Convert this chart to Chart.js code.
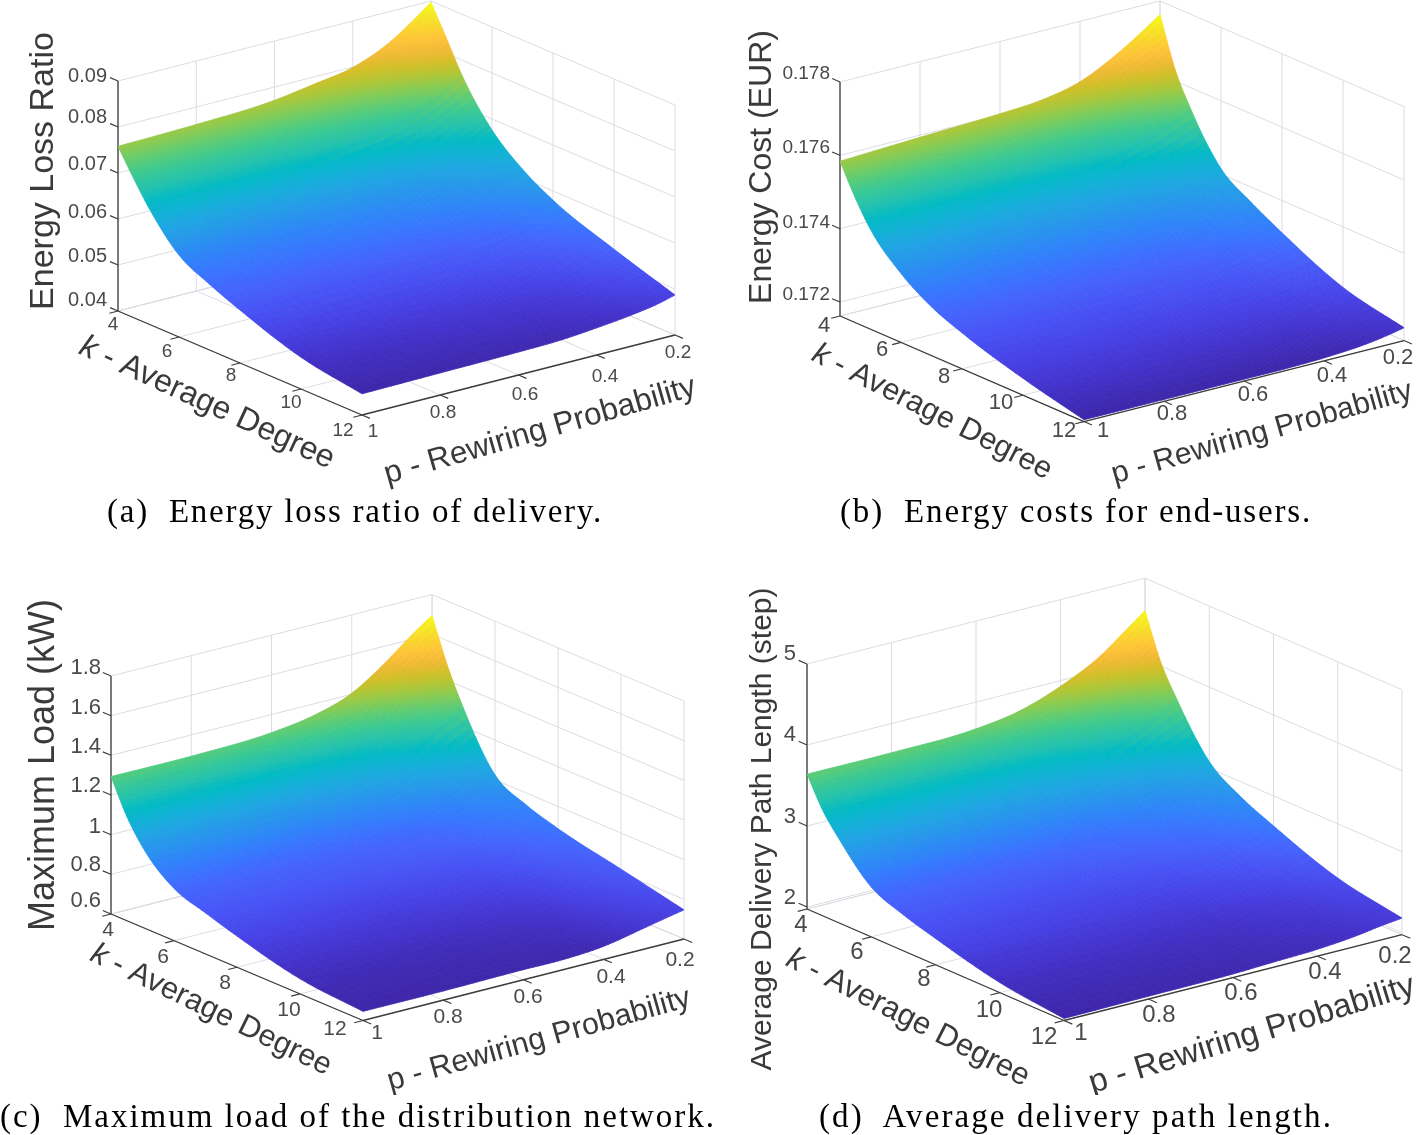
<!DOCTYPE html>
<html>
<head>
<meta charset="utf-8">
<title>Surface plots</title>
<script src="https://cdn.jsdelivr.net/npm/chart.js@4/dist/chart.umd.js"></script>
<style>
  html, body { margin: 0; background: #fff; }
  #page { position: relative; width: 1417px; height: 1135px; overflow: hidden; }
  canvas { position: absolute; filter: blur(0.5px); }
  .caption { position: absolute; font: 33px/36px "Liberation Serif", serif; color: #000; white-space: pre; filter: blur(0.3px); }
</style>
</head>
<body>
<div id="page"></div>
<script>
// grid shared by the four surfaces
const kValues = [4, 4.5, 5, 6, 7, 8, 10, 12];
const pValues = [1, 0.8, 0.6, 0.5, 0.4, 0.3, 0.25, 0.2];

// one row per k, one column per p
const lossRatio = [
  [0.0758, 0.0762, 0.0771, 0.0784, 0.0799, 0.0836, 0.0865, 0.0897],
  [0.0704, 0.0708, 0.0717, 0.0728, 0.0743, 0.0778, 0.0804, 0.0834],
  [0.0654, 0.0658, 0.0665, 0.0676, 0.0689, 0.0719, 0.0741, 0.0769],
  [0.0578, 0.0580, 0.0589, 0.0595, 0.0608, 0.0632, 0.0652, 0.0676],
  [0.0543, 0.0545, 0.0552, 0.0556, 0.0567, 0.0587, 0.0602, 0.0619],
  [0.0515, 0.0517, 0.0522, 0.0526, 0.0535, 0.0552, 0.0565, 0.0580],
  [0.0469, 0.0472, 0.0476, 0.0480, 0.0487, 0.0504, 0.0515, 0.0530],
  [0.0446, 0.0448, 0.0450, 0.0452, 0.0459, 0.0469, 0.0476, 0.0487]
];
const energyCost = [
  [0.17584, 0.17594, 0.17603, 0.17611, 0.17635, 0.17690, 0.17725, 0.17763],
  [0.17502, 0.17507, 0.17516, 0.17521, 0.17537, 0.17575, 0.17603, 0.17630],
  [0.17434, 0.17439, 0.17445, 0.17450, 0.17464, 0.17497, 0.17518, 0.17543],
  [0.17350, 0.17352, 0.17355, 0.17361, 0.17369, 0.17388, 0.17401, 0.17415],
  [0.17295, 0.17298, 0.17301, 0.17303, 0.17312, 0.17331, 0.17344, 0.17358],
  [0.17260, 0.17263, 0.17265, 0.17268, 0.17274, 0.17290, 0.17301, 0.17312],
  [0.17208, 0.17211, 0.17211, 0.17214, 0.17216, 0.17225, 0.17230, 0.17235],
  [0.17167, 0.17167, 0.17167, 0.17167, 0.17170, 0.17178, 0.17186, 0.17197]
];
const maxLoad = [
  [1.293, 1.293, 1.309, 1.339, 1.405, 1.542, 1.623, 1.694],
  [1.126, 1.132, 1.142, 1.162, 1.212, 1.334, 1.399, 1.470],
  [1.005, 1.010, 1.015, 1.035, 1.076, 1.177, 1.238, 1.293],
  [0.863, 0.863, 0.868, 0.878, 0.904, 0.959, 0.995, 1.025],
  [0.807, 0.807, 0.813, 0.823, 0.843, 0.888, 0.914, 0.939],
  [0.757, 0.757, 0.762, 0.772, 0.792, 0.838, 0.863, 0.888],
  [0.676, 0.676, 0.681, 0.691, 0.711, 0.762, 0.787, 0.818],
  [0.646, 0.646, 0.651, 0.651, 0.666, 0.706, 0.727, 0.747]
];
const pathLength = [
  [3.64, 3.64, 3.67, 3.75, 3.93, 4.20, 4.40, 4.60],
  [3.27, 3.28, 3.30, 3.35, 3.50, 3.72, 3.88, 4.04],
  [3.01, 3.02, 3.03, 3.08, 3.21, 3.39, 3.54, 3.67],
  [2.59, 2.59, 2.62, 2.64, 2.74, 2.87, 2.98, 3.08],
  [2.42, 2.42, 2.43, 2.47, 2.54, 2.65, 2.73, 2.81],
  [2.30, 2.30, 2.31, 2.33, 2.39, 2.49, 2.55, 2.63],
  [2.10, 2.10, 2.11, 2.12, 2.17, 2.23, 2.28, 2.33],
  [2.00, 2.01, 2.02, 2.04, 2.06, 2.11, 2.15, 2.18]
];

const kTicks = ['4', '6', '8', '10', '12'];
const pTicks = ['1', '0.8', '0.6', '0.4', '0.2'];
const lossTicks = ['0.09', '0.08', '0.07', '0.06', '0.05', '0.04'];
const costTicks = ['0.178', '0.176', '0.174', '0.172'];
const loadTicks = ['1.8', '1.6', '1.4', '1.2', '1', '0.8', '0.6'];
const pathTicks = ['5', '4', '3', '2'];

// matlab parula, every third entry of the 64 colour table
const parula = [
  [0.2422, 0.1504, 0.6603], [0.2647, 0.1978, 0.7952], [0.2783, 0.2559, 0.8991], [0.2810, 0.3228, 0.9579],
  [0.2699, 0.3892, 0.9906], [0.2206, 0.4603, 0.9973], [0.1786, 0.5289, 0.9682], [0.1540, 0.5902, 0.9218],
  [0.1248, 0.6459, 0.8883], [0.0689, 0.6948, 0.8394], [0.0067, 0.7312, 0.7660], [0.1408, 0.7584, 0.6842],
  [0.2161, 0.7843, 0.5923], [0.3406, 0.8008, 0.4789], [0.5044, 0.7993, 0.3480], [0.6720, 0.7793, 0.2227],
  [0.8203, 0.7498, 0.1535], [0.9393, 0.7288, 0.2100], [0.9970, 0.7659, 0.2199], [0.9786, 0.8386, 0.1766],
  [0.9597, 0.9135, 0.1423], [0.9769, 0.9839, 0.0805]
];

const panels = [
  {
    rows: lossRatio, ticks: lossTicks, zLow: 0.04, zTop: 0.09,
    box: { left: 0, top: 0, width: 708, height: 490 },
    origin: [118, 311], kVec: [244, 104], pVec: [313, -80], zPx: 230,
    zRight: 107, zLabelY: [76, 117, 164, 212, 256, 300], zFont: 20, tickFont: 19,
    kLabels: [[113, 325], [167, 352], [231, 376], [291, 403], [343, 431]],
    pLabels: [[373, 432], [443, 413], [525, 395], [605, 377], [678, 353]],
    zTitle: { text: 'Energy Loss Ratio', x: 44, y: 171, size: 34 },
    kTitle: { x: 207, y: 403, angle: 24.8, size: 32 },
    pTitle: { x: 540, y: 431, angle: -16, size: 31.4 },
    caption: { text: '(a)  Energy loss ratio of delivery.', left: 107, right: 603, y: 511 }
  },
  {
    rows: energyCost, ticks: costTicks, zLow: 0.17162, zTop: 0.178,
    box: { left: 708, top: 0, width: 709, height: 490 },
    origin: [840, 316], kVec: [244, 105.6], pVec: [320, -81], zPx: 234,
    zRight: 830, zLabelY: [74, 148, 223, 295], zFont: 19, tickFont: 22,
    kLabels: [[824, 326], [882, 350], [944, 377], [1001, 403], [1064, 431]],
    pLabels: [[1103, 431], [1172, 414], [1253, 395], [1332, 376], [1398, 358]],
    zTitle: { text: 'Energy Cost (EUR)', x: 762, y: 167, size: 32 },
    kTitle: { x: 932, y: 412, angle: 27, size: 30.6 },
    pTitle: { x: 1262, y: 433, angle: -15.8, size: 30.3 },
    caption: { text: '(b)  Energy costs for end-users.', left: 840, right: 1312, y: 511 }
  },
  {
    rows: maxLoad, ticks: loadTicks, zLow: 0.6, zTop: 1.8,
    box: { left: 0, top: 570, width: 708, height: 525 },
    origin: [111, 914], kVec: [252, 106.5], pVec: [321, -81.5], zPx: 238,
    zRight: 101, zLabelY: [668, 708, 747, 786, 827, 865, 901], zFont: 22, tickFont: 21,
    kLabels: [[108, 930], [163, 957], [225, 983], [289, 1010], [335, 1029]],
    pLabels: [[377, 1033], [448, 1017], [528, 997], [611, 977], [680, 960]],
    zTitle: { text: 'Maximum Load (kW)', x: 44, y: 765, size: 36 },
    kTitle: { x: 211, y: 1010, angle: 26, size: 30.5 },
    pTitle: { x: 539, y: 1040, angle: -15.7, size: 30.5 },
    caption: { text: '(c)  Maximum load of the distribution network.', left: 0, right: 716, y: 1116 }
  },
  {
    rows: pathLength, ticks: pathTicks, zLow: 1.975, zTop: 5,
    box: { left: 708, top: 570, width: 709, height: 525 },
    origin: [807, 909], kVec: [257, 111.5], pVec: [338, -85.8], zPx: 245,
    zRight: 796, zLabelY: [654, 735, 817, 898], zFont: 22, tickFont: 24,
    kLabels: [[801, 925], [857, 952], [924, 979], [989, 1010], [1044, 1037]],
    pLabels: [[1081, 1033], [1159, 1015], [1241, 993], [1325, 972], [1395, 956]],
    zTitle: { text: 'Average Delivery Path Length (step)', x: 763, y: 829, size: 30 },
    kTitle: { x: 908, y: 1018, angle: 27, size: 31 },
    pTitle: { x: 1252, y: 1035, angle: -17, size: 33 },
    caption: { text: '(d)  Average delivery path length.', left: 819, right: 1333, y: 1116 }
  }
];

const GRID = '#dcdce4';
const AXIS = '#3c3c3c';
const SUB = 8; // painted quads per grid cell

function project(panel, k, p, z) {
  const t = (k - 4) / 8;
  const s = (1 - p) / 0.8;
  const u = (z - panel.zLow) / (panel.zTop - panel.zLow);
  return {
    x: panel.origin[0] + t * panel.kVec[0] + s * panel.pVec[0],
    y: panel.origin[1] + t * panel.kVec[1] + s * panel.pVec[1] - u * panel.zPx
  };
}

function segment(panel, a, b, color, width) {
  return {
    data: [project(panel, a[0], a[1], a[2]), project(panel, b[0], b[1], b[2])],
    showLine: true, pointRadius: 0, borderColor: color, borderWidth: width, fill: false
  };
}

function buildDatasets(panel) {
  const { zLow, zTop } = panel;
  const zNums = panel.ticks.map(Number);
  const out = [];

  // dark axes and tick marks first, chart.js paints the first dataset on top
  out.push(segment(panel, [4, 1, zLow], [4, 1, zTop], AXIS, 1.3));
  out.push(segment(panel, [4, 1, zLow], [12, 1, zLow], AXIS, 1.3));
  out.push(segment(panel, [12, 1, zLow], [12, 0.2, zLow], AXIS, 1.3));
  zNums.forEach(z => out.push(segment(panel, [4, 1, z], [3.74, 1, z], AXIS, 1.1)));
  kTicks.map(Number).forEach(k => out.push(segment(panel, [k, 1, zLow], [k, 1.022, zLow], AXIS, 1.1)));
  pTicks.map(Number).forEach(p => out.push(segment(panel, [12, p, zLow], [12.26, p, zLow], AXIS, 1.1)));

  // walls and floor
  zNums.concat(zLow).forEach(z => {
    out.push(segment(panel, [4, 1, z], [4, 0.2, z], GRID, 1));
    out.push(segment(panel, [4, 0.2, z], [12, 0.2, z], GRID, 1));
  });
  pTicks.map(Number).forEach(p => {
    out.push(segment(panel, [4, p, zLow], [4, p, zTop], GRID, 1));
    out.push(segment(panel, [4, p, zLow], [12, p, zLow], GRID, 1));
  });
  kTicks.map(Number).forEach(k => {
    out.push(segment(panel, [k, 0.2, zLow], [k, 0.2, zTop], GRID, 1));
    out.push(segment(panel, [k, 1, zLow], [k, 0.2, zLow], GRID, 1));
  });

  // the surface rows, no marks of their own: surfacePlugin paints them
  panel.rows.forEach((row, i) => {
    out.push({
      surface: true, showLine: false, pointRadius: 0,
      data: row.map((z, j) => Object.assign(project(panel, kValues[i], pValues[j], z), { z: z }))
    });
  });
  return out;
}

function parulaColor(t) {
  const pos = Math.max(0, Math.min(1, t)) * (parula.length - 1);
  const i = Math.min(Math.floor(pos), parula.length - 2);
  const f = pos - i;
  const c = [0, 1, 2].map(n => Math.round(255 * (parula[i][n] * (1 - f) + parula[i + 1][n] * f)));
  return 'rgb(' + c.join(',') + ')';
}

// hermite spline through unevenly spaced knots, keeps straight parts straight
function spline(knots, values, pos) {
  const n = values.length - 1;
  let i = 0;
  while (i < n - 1 && pos > knots[i + 1]) i++;
  const slope = a => {
    if (a === 0) return (values[1] - values[0]) / (knots[1] - knots[0]);
    if (a === n) return (values[n] - values[n - 1]) / (knots[n] - knots[n - 1]);
    const h0 = knots[a] - knots[a - 1];
    const h1 = knots[a + 1] - knots[a];
    const d0 = (values[a] - values[a - 1]) / h0;
    const d1 = (values[a + 1] - values[a]) / h1;
    return (h1 * d0 + h0 * d1) / (h0 + h1);
  };
  const h = knots[i + 1] - knots[i];
  const u = (pos - knots[i]) / h;
  const u2 = u * u;
  const u3 = u2 * u;
  return (2 * u3 - 3 * u2 + 1) * values[i] + (u3 - 2 * u2 + u) * h * slope(i) +
    (-2 * u3 + 3 * u2) * values[i + 1] + (u3 - u2) * h * slope(i + 1);
}

function between(knots) {
  const out = [];
  for (let i = 0; i < knots.length - 1; i++) {
    for (let s = 0; s < SUB; s++) out.push(knots[i] + (knots[i + 1] - knots[i]) * s / SUB);
  }
  out.push(knots[knots.length - 1]);
  return out;
}

// smooth the read grid for painting only, in pixel space
function sampleSurface(grid) {
  const pKnots = pValues.map(p => -p);
  const along = grid.map(row => between(pKnots).map(q => spline(pKnots, row, q)));
  return between(kValues).map(k => along[0].map((_, j) => spline(kValues, along.map(r => r[j]), k)));
}

const surfacePlugin = {
  id: 'surfacePlugin',
  afterDatasetsDraw(chart) {
    const ctx = chart.ctx;
    const sets = chart.data.datasets
      .map((d, i) => ({ d: d, meta: chart.getDatasetMeta(i) }))
      .filter(s => s.d.surface);
    const xs = sampleSurface(sets.map(s => s.meta.data.map(pt => pt.x)));
    const ys = sampleSurface(sets.map(s => s.meta.data.map(pt => pt.y)));
    const zs = sampleSurface(sets.map(s => s.d.data.map(pt => pt.z)));
    const all = sets.flatMap(s => s.d.data.map(pt => pt.z));
    const lo = Math.min(...all);
    const hi = Math.max(...all);

    ctx.save();
    ctx.lineWidth = 0.8;
    ctx.lineJoin = 'round';
    // back to front: low k first, low p first
    for (let i = 0; i < xs.length - 1; i++) {
      for (let j = xs[0].length - 2; j >= 0; j--) {
        const z = (zs[i][j] + zs[i + 1][j] + zs[i][j + 1] + zs[i + 1][j + 1]) / 4;
        const color = parulaColor((z - lo) / (hi - lo));
        ctx.fillStyle = color;
        ctx.strokeStyle = color;
        ctx.beginPath();
        ctx.moveTo(xs[i][j], ys[i][j]);
        ctx.lineTo(xs[i + 1][j], ys[i + 1][j]);
        ctx.lineTo(xs[i + 1][j + 1], ys[i + 1][j + 1]);
        ctx.lineTo(xs[i][j + 1], ys[i][j + 1]);
        ctx.closePath();
        ctx.fill();
        ctx.stroke();
      }
    }
    ctx.restore();
  }
};

function sloped(ctx, x, y, angle, draw) {
  ctx.save();
  ctx.translate(x, y);
  ctx.rotate(angle * Math.PI / 180);
  draw();
  ctx.restore();
}

function drawTitle(ctx, chart, title, first, rest, italic) {
  const sx = chart.scales.x.getPixelForValue(title.x);
  const sy = chart.scales.y.getPixelForValue(title.y);
  sloped(ctx, sx, sy, title.angle, () => {
    const plain = title.size + 'px "Liberation Sans", sans-serif';
    const lead = (italic ? 'italic ' : '') + plain;
    ctx.textBaseline = 'middle';
    ctx.textAlign = 'left';
    ctx.font = lead;
    const w1 = ctx.measureText(first).width;
    ctx.font = plain;
    const w2 = ctx.measureText(rest).width;
    const start = -(w1 + w2) / 2;
    ctx.font = lead;
    ctx.fillText(first, start, 0);
    ctx.font = plain;
    ctx.fillText(rest, start + w1, 0);
  });
}

const labelPlugin = {
  id: 'labelPlugin',
  afterDraw(chart, args, opts) {
    const panel = opts.panel;
    const ctx = chart.ctx;
    const sx = chart.scales.x;
    const sy = chart.scales.y;
    ctx.save();
    ctx.fillStyle = '#4a4a4a';
    ctx.textBaseline = 'middle';

    ctx.font = panel.zFont + 'px "Liberation Sans", sans-serif';
    ctx.textAlign = 'right';
    panel.ticks.forEach((t, i) => ctx.fillText(t, sx.getPixelForValue(panel.zRight), sy.getPixelForValue(panel.zLabelY[i])));

    ctx.font = panel.tickFont + 'px "Liberation Sans", sans-serif';
    ctx.textAlign = 'center';
    kTicks.forEach((t, i) => ctx.fillText(t, sx.getPixelForValue(panel.kLabels[i][0]), sy.getPixelForValue(panel.kLabels[i][1])));
    pTicks.forEach((t, i) => ctx.fillText(t, sx.getPixelForValue(panel.pLabels[i][0]), sy.getPixelForValue(panel.pLabels[i][1])));

    ctx.fillStyle = '#3a3a3a';
    drawTitle(ctx, chart, Object.assign({ angle: -90 }, panel.zTitle), panel.zTitle.text, '', false);
    drawTitle(ctx, chart, panel.kTitle, 'k', ' - Average Degree', true);
    drawTitle(ctx, chart, panel.pTitle, 'p', ' - Rewiring Probability', false);
    ctx.restore();
  }
};

const page = document.getElementById('page');

panels.forEach(panel => {
  const box = panel.box;
  const canvas = document.createElement('canvas');
  canvas.width = box.width;
  canvas.height = box.height;
  canvas.style.left = box.left + 'px';
  canvas.style.top = box.top + 'px';
  page.appendChild(canvas);

  new Chart(canvas.getContext('2d'), {
    type: 'scatter',
    data: { datasets: buildDatasets(panel) },
    options: {
      responsive: false,
      animation: false,
      layout: { padding: 0 },
      scales: {
        x: { type: 'linear', display: false, min: box.left, max: box.left + box.width },
        y: { type: 'linear', display: false, reverse: true, min: box.top, max: box.top + box.height }
      },
      plugins: { legend: { display: false }, tooltip: { enabled: false }, labelPlugin: { panel: panel } }
    },
    plugins: [surfacePlugin, labelPlugin]
  });

  // caption stretched to the width it has in the figure
  const cap = document.createElement('div');
  cap.className = 'caption';
  cap.textContent = panel.caption.text;
  cap.style.left = panel.caption.left + 'px';
  cap.style.top = (panel.caption.y - 18) + 'px';
  page.appendChild(cap);
  const spare = panel.caption.right - panel.caption.left - cap.getBoundingClientRect().width;
  cap.style.letterSpacing = (spare / panel.caption.text.length) + 'px';
});
</script>
</body>
</html>
